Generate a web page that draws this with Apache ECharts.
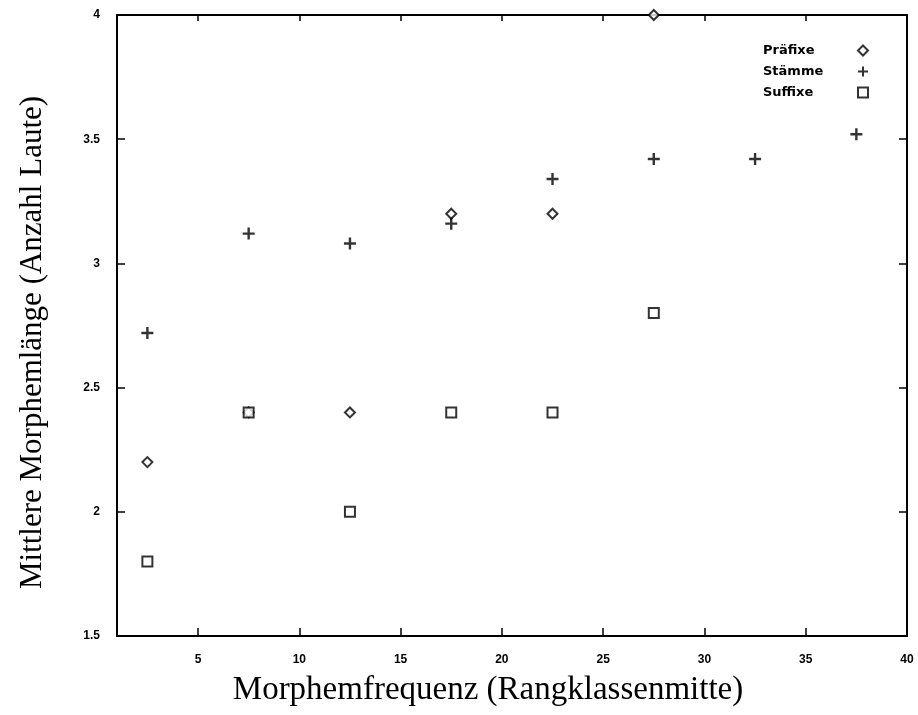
<!DOCTYPE html>
<html>
<head>
<meta charset="utf-8">
<script src="https://cdn.jsdelivr.net/npm/echarts@6/dist/echarts.min.js"></script>
<style>
  html, body { margin: 0; padding: 0; background: #fff; }
  #main { width: 918px; height: 715px; }
</style>
</head>
<body>
<div id="main"></div>
<script>
  // Rangklassenmitte
  const xPos = [2.5, 7.5, 12.5, 17.5, 22.5, 27.5, 32.5, 37.5];
  const praefixe = [2.2, 2.4, 2.4, 3.2, 3.2, 4.0];
  const staemme = [2.72, 3.12, 3.08, 3.16, 3.34, 3.42, 3.42, 3.52];
  const suffixe = [1.8, 2.4, 2.0, 2.4, 2.4, 2.8];
  const xTicks = [5, 10, 15, 20, 25, 30, 35, 40];

  const pairs = (vals) => vals.map((v, i) => [xPos[i], v]);
  const plus = 'path://M4,0H6V4H10V6H6V10H4V6H0V4H4Z';

  const tickFont = { fontFamily: 'Liberation Sans', fontWeight: 'bold', fontSize: 12, color: '#000' };

  const myechart = echarts.init(document.getElementById('main'));
  const option = {
    backgroundColor: '#fff',
    animation: false,
    grid: { left: 117, right: 11, top: 15, bottom: 79, show: false },
    legend: {
      orient: 'vertical',
      right: 44,
      top: 39,
      align: 'right',
      itemGap: 8,
      itemWidth: 10,
      itemHeight: 10,
      formatter: '{a|{name}}',
      textStyle: {
        rich: {
          a: { fontFamily: 'DejaVu Sans', fontWeight: 'bold', fontSize: 13, color: '#000',
               width: 90, align: 'left', lineHeight: 14 }
        }
      },
      data: ['Präfixe', 'Stämme', 'Suffixe']
    },
    xAxis: [
      {
        type: 'value', min: 1, max: 40,
        name: 'Morphemfrequenz (Rangklassenmitte)',
        nameLocation: 'middle', nameGap: 38,
        nameTextStyle: { fontFamily: 'Liberation Serif', fontSize: 33, color: '#000', padding: [0, 48, 0, 0] },
        splitLine: { show: false },
        axisLine: { lineStyle: { color: '#000', width: 2 } },
        axisTick: { inside: true, length: 8, customValues: xTicks, lineStyle: { color: '#000', width: 1.5 } },
        axisLabel: Object.assign({ margin: 18, customValues: xTicks }, tickFont)
      },
      {
        type: 'value', min: 1, max: 40, position: 'top',
        splitLine: { show: false },
        axisLine: { lineStyle: { color: '#000', width: 2 } },
        axisTick: { inside: true, length: 6, customValues: xTicks, lineStyle: { color: '#000', width: 1.5 } },
        axisLabel: { show: false }
      }
    ],
    yAxis: [
      {
        type: 'value', min: 1.5, max: 4, interval: 0.5,
        name: 'Mittlere Morphemlänge (Anzahl Laute)',
        nameLocation: 'middle', nameGap: 69,
        nameTextStyle: { fontFamily: 'Liberation Serif', fontSize: 31, color: '#000', padding: [0, 34, 0, 0] },
        splitLine: { show: false },
        axisLine: { lineStyle: { color: '#000', width: 2 } },
        axisTick: { inside: true, length: 8, lineStyle: { color: '#000', width: 1.5 } },
        axisLabel: Object.assign({ margin: 17 }, tickFont)
      },
      {
        type: 'value', min: 1.5, max: 4, interval: 0.5, position: 'right',
        splitLine: { show: false },
        axisLine: { lineStyle: { color: '#000', width: 2 } },
        axisTick: { inside: true, length: 8, lineStyle: { color: '#000', width: 1.5 } },
        axisLabel: { show: false }
      }
    ],
    series: [
      {
        name: 'Präfixe', type: 'scatter', data: pairs(praefixe),
        symbol: 'diamond', symbolSize: 10,
        itemStyle: { color: '#fff', borderColor: '#000', borderWidth: 2 }
      },
      {
        name: 'Stämme', type: 'scatter', data: pairs(staemme),
        symbol: plus, symbolSize: 12,
        itemStyle: { color: '#000' }
      },
      {
        name: 'Suffixe', type: 'scatter', data: pairs(suffixe),
        symbol: 'rect', symbolSize: 10,
        itemStyle: { color: '#fff', borderColor: '#000', borderWidth: 2 }
      }
    ]
  };
  myechart.setOption(option);
</script>
</body>
</html>
